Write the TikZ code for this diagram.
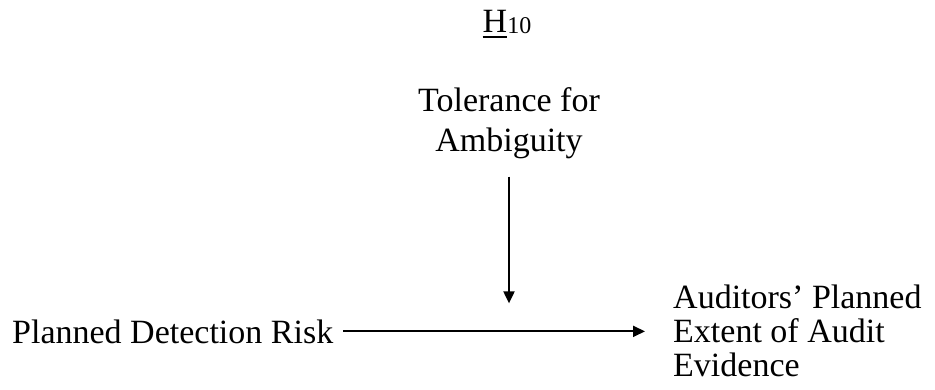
\documentclass[tikz,border=0pt]{standalone}
\usepackage{fontspec}
\setmainfont{Liberation Serif}
\usetikzlibrary{arrows.meta}

% letter with a heavy rule underneath it
\newcommand{\heavyunderline}[1]{%
  \setbox0\hbox{#1}\rlap{\rule[-5pt]{\wd0}{1.8pt}}#1}

\begin{document}
\begin{tikzpicture}[x=1pt,y=-1pt,
  label text/.style={inner sep=0pt, font=\fontsize{34}{40}\selectfont},
  arr/.style={line width=2pt, -{Triangle[length=12pt,width=11pt]}}]
  \useasboundingbox (0,0) rectangle (935,390);

  % hypothesis heading
  \node[label text, anchor=base] (hyp) at (507,33)
    {\heavyunderline{H}\raisebox{-1pt}{\fontsize{24}{24}\selectfont 10}};

  % moderator
  \node[label text, anchor=north, align=center] (tol) at (509,87)
    {Tolerance for\\Ambiguity};

  % independent and dependent variables
  \node[label text, anchor=base west] (pdr) at (12,343) {Planned Detection Risk};
  \node[label text, anchor=west, align=left,
        font=\fontsize{34}{34}\selectfont] (ape) at (673,331)
    {Auditors' Planned\\Extent of Audit\\Evidence};

  % main effect
  \draw[arr, shorten <=10pt, shorten >=28pt] (pdr.east) -- (pdr.east -| ape.west);

  % moderating effect onto the main path
  \path (pdr.east -| tol.south) coordinate (join);
  \draw[arr] ([yshift=-18pt]tol.south) -- ([yshift=28pt]join);
\end{tikzpicture}
\end{document}
